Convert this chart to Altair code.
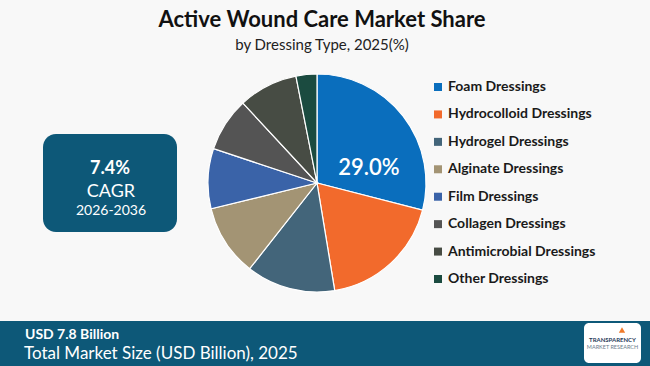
import altair as alt
import pandas as pd

types = ["Foam Dressings", "Hydrocolloid Dressings", "Hydrogel Dressings", "Alginate Dressings",
         "Film Dressings", "Collagen Dressings", "Antimicrobial Dressings", "Other Dressings"]
shares = [29.0, 18.4, 13.2, 10.6, 8.9, 8.0, 8.8, 3.1]
colors = ["#0A6EBD", "#F26A2C", "#43657A", "#A39474", "#3A63A8", "#545454", "#474C44", "#1B4B40"]

title_text = "Active Wound Care Market Share"
subtitle_text = "by Dressing Type, 2025(%)"
cagr_value = "7.4%"
cagr_label = "CAGR"
cagr_period = "2026-2036"
market_value = "USD 7.8 Billion"
market_label = "Total Market Size (USD Billion), 2025"

df = pd.DataFrame({"type": types, "share": shares, "idx": list(range(len(types)))})
one = pd.DataFrame({"a": [0]})

BOX = "#0D5878"
FONT = "Lato"

color_scale = alt.Scale(domain=types, range=colors)

pie = alt.Chart(df).mark_arc(outerRadius=109, stroke="white", strokeWidth=1.2).encode(
    theta=alt.Theta("share:Q", stack=True),
    color=alt.Color("type:N", scale=color_scale, legend=None),
    order=alt.Order("idx:Q"),
    x=alt.value(317), y=alt.value(183),
)

pie_label = alt.Chart(df).transform_filter(
    alt.datum.idx == 0
).transform_calculate(
    lab="format(datum.share, '.1f') + '%'"
).mark_text(font=FONT, fontSize=22, fontWeight=600, color="white", align="center", baseline="middle").encode(
    text="lab:N", x=alt.value(369), y=alt.value(168)
)

ysc = alt.Scale(domain=[0, 7], range=[87, 279])
leg_sq = alt.Chart(df).mark_square(size=64, opacity=1).encode(
    x=alt.value(438),
    y=alt.Y("idx:Q", scale=ysc, axis=None),
    color=alt.Color("type:N", scale=color_scale, legend=None),
)
leg_tx = alt.Chart(df).mark_text(font=FONT, fontSize=14, fontWeight="bold", color="#1A1A1A",
                                 align="left", baseline="middle").encode(
    x=alt.value(448),
    y=alt.Y("idx:Q", scale=ysc, axis=None),
    text="type:N",
)

def txt(s, x, y, size, weight="normal", color="#111111", align="center", font=FONT):
    return alt.Chart(one).mark_text(text=s, font=font, fontSize=size, fontWeight=weight, color=color,
                                    align=align, baseline="middle").encode(x=alt.value(x), y=alt.value(y))

title = txt(title_text, 322, 20, 22, "bold", "#111111")
subtitle = txt(subtitle_text, 322, 45, 15, "normal", "#222222")

box = alt.Chart(one).mark_rect(color=BOX, cornerRadius=13).encode(
    x=alt.value(43), x2=alt.value(177), y=alt.value(134), y2=alt.value(232))
c1 = txt(cagr_value, 110, 169, 18, "bold", "white")
c2 = txt(cagr_label, 111, 192, 18, "normal", "white")
c3 = txt(cagr_period, 111, 211, 14, "normal", "white")

bar = alt.Chart(one).mark_rect(color=BOX).encode(
    x=alt.value(0), x2=alt.value(650), y=alt.value(321), y2=alt.value(366))
b1 = txt(market_value, 25, 335, 14, "bold", "white", "left")
b2 = txt(market_label, 24, 354, 17, "normal", "white", "left")

logo = alt.Chart(one).mark_rect(color="white", cornerRadius=5).encode(
    x=alt.value(584), x2=alt.value(641), y=alt.value(323), y2=alt.value(363))
l1 = txt("TRANSPARENCY", 612.5, 340, 6, "bold", "#1F3B5A")
l2 = txt("MARKET RESEARCH", 612.5, 347, 5.5, "normal", "#6A7C8C")
arrow = alt.Chart(one).mark_point(shape="triangle-up", filled=True, color="#F07A2A", size=40, opacity=1).encode(
    x=alt.value(622), y=alt.value(330))

chart = alt.layer(
    title, subtitle, pie, pie_label, leg_sq, leg_tx, box, c1, c2, c3, bar, b1, b2, logo, l1, l2, arrow
).properties(
    width=650, height=366, background="#F8F8F8",
    autosize=alt.AutoSizeParams(type="none"), padding=0
).configure_view(stroke=None)

chart.save("out.html", embed_options={"renderer": "svg", "actions": False})
